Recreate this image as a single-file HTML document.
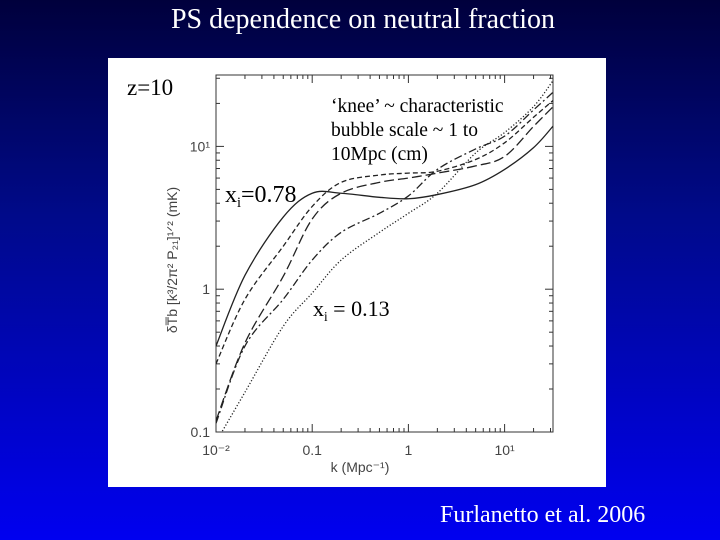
<!DOCTYPE html>
<html><head><meta charset="utf-8"><style>
html,body{margin:0;padding:0}
body{width:720px;height:540px;overflow:hidden;background:linear-gradient(180deg,#00003c 0%,#000a8a 40%,#0000f0 100%);font-family:"Liberation Serif",serif;position:relative}
.t{position:absolute;color:#fff}
</style></head><body>
<div class="t" style="left:0;width:726px;top:4px;text-align:center;font-size:28px">PS dependence on neutral fraction</div>
<div style="position:absolute;left:108px;top:58px;width:498px;height:429px;background:#fff"></div>
<svg id="ch" width="720" height="540" style="position:absolute;left:0;top:0" font-family="Liberation Sans, sans-serif"></svg>
<div class="t" style="left:440px;top:502px;font-size:24px">Furlanetto et al. 2006</div>
<script>
const kVals=[0.01,0.02,0.05,0.1,0.2,0.5,1,2,5,10,20,32];
const solidY=[0.40,1.25,3.2,4.7,4.7,4.4,4.3,4.6,5.4,6.9,9.8,13.9];
const shortDashY=[0.30,0.85,2.0,3.8,5.6,6.3,6.5,6.7,8.1,10.6,16,21];
const longDashY=[0.12,0.42,1.23,3.1,4.7,5.6,6.0,6.5,7.3,8.5,13.8,19];
const dotDashY=[0.115,0.40,0.85,1.6,2.5,3.4,4.5,6.9,9.6,11.8,18,24];
const dottedY=[0.085,0.19,0.55,0.94,1.6,2.5,3.4,4.7,9.0,12.5,19,29];
const xTicks=["10\u207B\u00B2","0.1","1","10\u00B9"];
const yTicks=["0.1","1","10\u00B9"];
const L=216,R=553,T=75,B=432;
const X=k=>L+(Math.log10(k)+2)*96.2;
const Y=v=>B-(Math.log10(v)+1)*142.8;
const svg=document.getElementById('ch'),NS='http://www.w3.org/2000/svg';
function mk(t,a,p){const e=document.createElementNS(NS,t);for(const k in a)e.setAttribute(k,a[k]);(p||svg).appendChild(e);return e;}
const cp=mk('clipPath',{id:'cp'});mk('rect',{x:L,y:T,width:R-L,height:B-T},cp);
const fr=mk('rect',{x:L,y:T,width:R-L,height:B-T,fill:'none',stroke:'#333','stroke-width':1});

for(let d=-2;d<=1;d++)for(let m=1;m<10;m++){const k=m*Math.pow(10,d);if(k>32)break;const x=X(k),len=m==1?8:4;
mk('line',{x1:x,x2:x,y1:B,y2:B-len,stroke:'#333'});mk('line',{x1:x,x2:x,y1:T,y2:T+len,stroke:'#333'});}
for(let d=-1;d<=1;d++)for(let m=1;m<10;m++){const v=m*Math.pow(10,d);if(v>32)break;const y=Y(v),len=m==1?8:4;
mk('line',{x1:L,x2:L+len,y1:y,y2:y,stroke:'#333'});mk('line',{x1:R,x2:R-len,y1:y,y2:y,stroke:'#333'});}
xTicks.forEach((s,i)=>{const t=mk('text',{x:X(Math.pow(10,i-2)),y:B+23,'text-anchor':'middle','font-size':14,fill:'#444'});t.textContent=s;
});
yTicks.forEach((s,i)=>{const t=mk('text',{x:L-6,y:Y(Math.pow(10,i-1))+5,'text-anchor':'end','font-size':14,fill:'#444'});t.textContent=s;
});
const xl=mk('text',{x:360,y:472,'text-anchor':'middle','font-size':14,fill:'#444'});xl.textContent='k (Mpc\u207B\u00B9)';

const yl=mk('text',{x:0,y:0,'text-anchor':'middle','font-size':14,fill:'#444',transform:'translate(177,260) rotate(-90)'});
yl.textContent='\u03B4T\u0305b [k\u00B3/2\u03C0\u00B2 P\u2082\u2081]\u00B9\u141F\u00B2 (mK)';

const series=[[solidY,'none','solid'],[shortDashY,'5 3','short-dash'],[longDashY,'10 4','long-dash'],[dotDashY,'8 3 2 3','dot-dash'],[dottedY,'1.2 2','dotted']];
series.forEach(([ys,da,nm])=>{let d='';const pts=kVals.map((k,i)=>[X(k),Y(ys[i])]);
d='M'+pts[0][0]+','+pts[0][1];for(let i=0;i<pts.length-1;i++){const p0=pts[Math.max(0,i-1)],p1=pts[i],p2=pts[i+1],p3=pts[Math.min(pts.length-1,i+2)];
d+=' C'+(p1[0]+(p2[0]-p0[0])/6)+','+(p1[1]+(p2[1]-p0[1])/6)+' '+(p2[0]-(p3[0]-p1[0])/6)+','+(p2[1]-(p3[1]-p1[1])/6)+' '+p2[0]+','+p2[1];}
const e=mk('path',{d:d,fill:'none',stroke:'#222','stroke-width':1.3,'stroke-dasharray':da,'clip-path':'url(#cp)'});
});
function txt(x,y,s,fs,nm,sub){const t=mk('text',{x:x,y:y,'font-size':fs,fill:'#000','font-family':'Liberation Serif, serif'});
if(sub){const a=mk('tspan',{},t);a.textContent=s[0];const b=mk('tspan',{dy:5,'font-size':fs*0.6},t);b.textContent='i';const c=mk('tspan',{dy:-5},t);c.textContent=s[1];}else t.textContent=s;
}
txt(127,95,'z=10',23,'redshift-label');
txt(331,112,'\u2018knee\u2019 ~ characteristic',19.5,'annotation-line-1');
txt(331,136,'bubble scale ~ 1 to',19.5,'annotation-line-2');
txt(331,160,'10Mpc (cm)',19.5,'annotation-line-3');
txt(225,202,['x','=0.78'],24,'label-xi-078',true);
txt(313,316,['x',' = 0.13'],22,'label-xi-013',true);
</script>
</body></html>
